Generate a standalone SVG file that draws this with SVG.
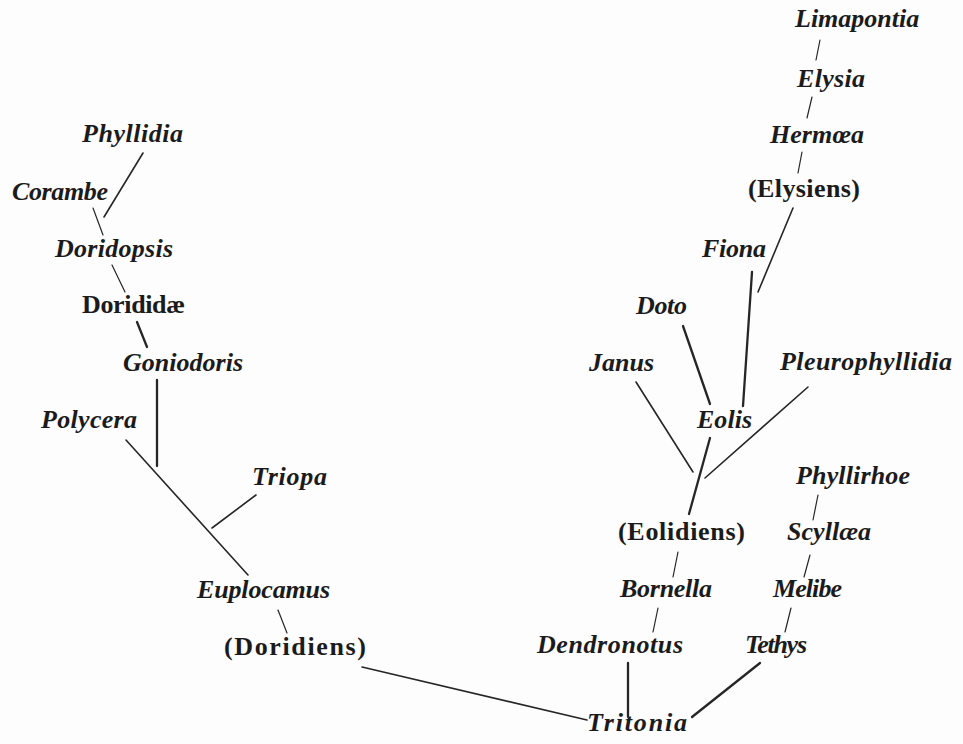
<svg xmlns="http://www.w3.org/2000/svg" width="963" height="744" viewBox="0 0 963 744">
<style>
text{font-family:"Liberation Serif","DejaVu Serif",serif;font-size:26px;font-weight:bold;fill:#1b1b1b}
.i{font-style:italic}
.l{stroke:#262626;stroke-linecap:round;fill:none}
.t1{stroke-width:1.2}
.t2{stroke-width:1.6}
.t3{stroke-width:2.3}
</style>
<rect width="963" height="744" fill="#fdfdfd"/>
<g id="connectors">
<line class="l t2" x1="143" y1="153" x2="104" y2="217"/>
<line class="l t1" x1="93" y1="208" x2="103" y2="235"/>
<line class="l t1" x1="112" y1="265" x2="125" y2="292"/>
<line class="l t3" x1="137" y1="322" x2="147" y2="347"/>
<line class="l t3" x1="157" y1="380" x2="157" y2="466"/>
<line class="l t2" x1="126" y1="440" x2="248" y2="575"/>
<line class="l t2" x1="256" y1="495" x2="212" y2="528"/>
<line class="l t1" x1="278" y1="610" x2="287" y2="633"/>
<line class="l t2" x1="362" y1="667" x2="587" y2="720"/>
<line class="l t3" x1="628" y1="663" x2="628" y2="717"/>
<line class="l t3" x1="760" y1="663" x2="692" y2="717"/>
<line class="l t1" x1="658" y1="608" x2="653" y2="632"/>
<line class="l t1" x1="791" y1="608" x2="785" y2="632"/>
<line class="l t1" x1="810" y1="555" x2="804" y2="577"/>
<line class="l t1" x1="818" y1="495" x2="813" y2="520"/>
<line class="l t1" x1="678" y1="552" x2="673" y2="577"/>
<line class="l t3" x1="710" y1="438" x2="689" y2="514"/>
<line class="l t2" x1="636" y1="382" x2="693" y2="472"/>
<line class="l t2" x1="808" y1="387" x2="705" y2="478"/>
<line class="l t3" x1="683" y1="326" x2="710" y2="404"/>
<line class="l t3" x1="752" y1="272" x2="743" y2="406"/>
<line class="l t2" x1="793" y1="208" x2="758" y2="292"/>
<line class="l t1" x1="802" y1="152" x2="798" y2="173"/>
<line class="l t1" x1="812" y1="97" x2="807" y2="118"/>
<line class="l t1" x1="820" y1="40" x2="816" y2="60"/>
</g>
<g id="n-limapontia"><text class="i" x="795" y="27">Limapontia</text></g>
<g id="n-elysia"><text class="i" x="797" y="87" textLength="68">Elysia</text></g>
<g id="n-hermaea"><text class="i" x="770" y="143" textLength="94">Hermœa</text></g>
<g id="n-elysiens"><text x="748" y="197" textLength="112">(Elysiens)</text></g>
<g id="n-fiona"><text class="i" x="702" y="257" textLength="64">Fiona</text></g>
<g id="n-doto"><text class="i" x="636" y="314" textLength="51">Doto</text></g>
<g id="n-janus"><text class="i" x="589" y="371" textLength="65">Janus</text></g>
<g id="n-pleurophyllidia"><text class="i" x="780" y="370" textLength="172">Pleurophyllidia</text></g>
<g id="n-eolis"><text class="i" x="697" y="428" textLength="55">Eolis</text></g>
<g id="n-phyllirhoe"><text class="i" x="796" y="484" textLength="114">Phyllirhoe</text></g>
<g id="n-eolidiens"><text x="618" y="540" textLength="127">(Eolidiens)</text></g>
<g id="n-scyllaea"><text class="i" x="787" y="540" textLength="84">Scyllæa</text></g>
<g id="n-bornella"><text class="i" x="620" y="597" textLength="92">Bornella</text></g>
<g id="n-melibe"><text class="i" x="773" y="597" textLength="69">Melibe</text></g>
<g id="n-dendronotus"><text class="i" x="537" y="653" textLength="146">Dendronotus</text></g>
<g id="n-tethys"><text class="i" x="745" y="653" textLength="62">Tethys</text></g>
<g id="n-tritonia"><text class="i" x="587" y="731" textLength="100">Tritonia</text></g>
<g id="n-phyllidia"><text class="i" x="82" y="142" textLength="101">Phyllidia</text></g>
<g id="n-corambe"><text class="i" x="12" y="200" textLength="96">Corambe</text></g>
<g id="n-doridopsis"><text class="i" x="55" y="257" textLength="118">Doridopsis</text></g>
<g id="n-dorididae"><text x="82" y="313" textLength="103">Dorididæ</text></g>
<g id="n-goniodoris"><text class="i" x="123" y="371" textLength="120">Goniodoris</text></g>
<g id="n-polycera"><text class="i" x="41" y="428" textLength="96">Polycera</text></g>
<g id="n-triopa"><text class="i" x="252" y="485" textLength="75">Triopa</text></g>
<g id="n-euplocamus"><text class="i" x="197" y="598" textLength="133">Euplocamus</text></g>
<g id="n-doridiens"><text x="224" y="655" textLength="142">(Doridiens)</text></g>
</svg>
